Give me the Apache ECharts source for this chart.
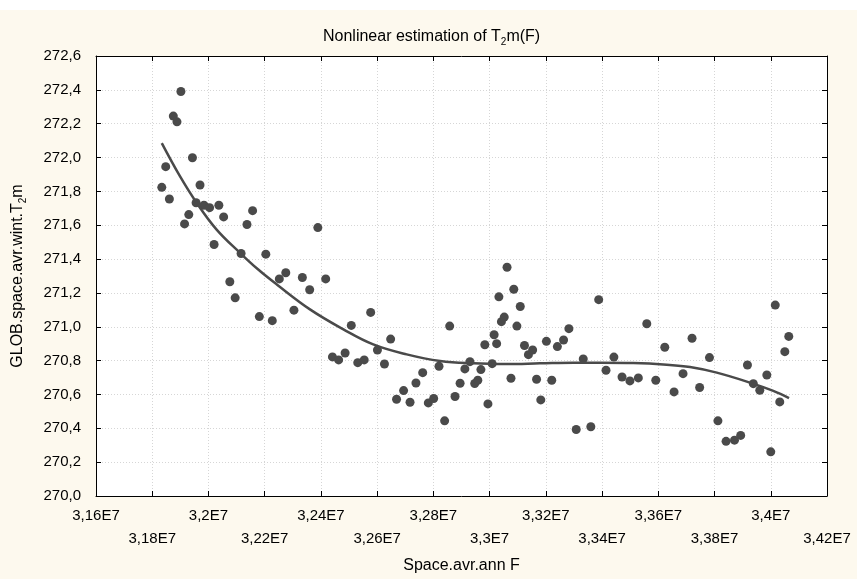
<!DOCTYPE html>
<html>
<head>
<meta charset="utf-8">
<title>Nonlinear estimation of T2m(F)</title>
<script src="https://cdn.jsdelivr.net/npm/echarts@6/dist/echarts.min.js"></script>
<style>
	html, body { margin: 0; padding: 0; background: #fff; }
	#chart { width: 857px; height: 579px; }
</style>
</head>
<body>
<div id="chart"></div>
<script>
// Space.avr.ann F, in units of 1E7
var spaceF = [
	3.1834, 3.1848, 3.1861, 3.1875, 3.1888, 3.1902, 3.1915, 3.1930, 3.1943, 3.1956,
	3.1970, 3.1984, 3.2004, 3.2020, 3.2037, 3.2054, 3.2076, 3.2095, 3.2116, 3.2137,
	3.2157, 3.2181, 3.2204, 3.2227, 3.2252, 3.2275, 3.2304, 3.2334, 3.2360, 3.2389,
	3.2417, 3.2441, 3.2463, 3.2486, 3.2508, 3.2531, 3.2554, 3.2577, 3.2601, 3.2626,
	3.2648, 3.2669, 3.2694, 3.2717, 3.2738, 3.2762, 3.2782, 3.2801, 3.2820, 3.2840,
	3.2858, 3.2877, 3.2895, 3.2912, 3.2930, 3.2947, 3.2958, 3.2969, 3.2983, 3.2994,
	3.3009, 3.3016, 3.3025, 3.3033, 3.3042, 3.3052, 3.3062, 3.3076, 3.3086, 3.3097,
	3.3109, 3.3124, 3.3138, 3.3153, 3.3167, 3.3182, 3.3202, 3.3221, 3.3241, 3.3263,
	3.3282, 3.3308, 3.3333, 3.3360, 3.3388, 3.3414, 3.3442, 3.3471, 3.3499, 3.3529,
	3.3559, 3.3591, 3.3623, 3.3656, 3.3688, 3.3720, 3.3747, 3.3782, 3.3812, 3.3841,
	3.3871, 3.3893, 3.3917, 3.3938, 3.3961, 3.3986, 3.4000, 3.4016, 3.4032, 3.4050,
	3.4064
];
// GLOB.space.avr.wint.T2m
var winterT2m = [
	271.824, 271.946, 271.755, 272.245, 272.211, 272.390, 271.608, 271.663, 271.999, 271.733,
	271.838, 271.718, 271.704, 271.486, 271.718, 271.649, 271.266, 271.171, 271.433, 271.604,
	271.686, 271.060, 271.429, 271.036, 271.283, 271.319, 271.098, 271.291, 271.219, 271.586,
	271.283, 270.822, 270.804, 270.845, 271.008, 270.788, 270.804, 271.085, 270.863, 270.780,
	270.927, 270.572, 270.623, 270.554, 270.668, 270.729, 270.550, 270.576, 270.767, 270.444,
	271.004, 270.588, 270.666, 270.751, 270.794, 270.665, 270.684, 270.747, 270.894, 270.544,
	270.782, 270.953, 270.900, 271.177, 271.030, 271.057, 271.352, 270.696, 271.222, 271.004,
	271.120, 270.889, 270.835, 270.863, 270.690, 270.568, 270.914, 270.684, 270.883, 270.922,
	270.989, 270.393, 270.810, 270.409, 271.160, 270.743, 270.821, 270.703, 270.680, 270.698,
	271.018, 270.684, 270.879, 270.615, 270.723, 270.932, 270.641, 270.818, 270.444, 270.323,
	270.330, 270.358, 270.774, 270.664, 270.625, 270.715, 270.261, 271.128, 270.556, 270.853,
	270.943
];
// fitted curve
var fitF = [
	3.1834, 3.1899, 3.1958, 3.2029, 3.2112, 3.2177, 3.2243, 3.2361, 3.2480, 3.2586,
	3.2705, 3.2824, 3.2942, 3.3061, 3.3179, 3.3298, 3.3393, 3.3511, 3.3630, 3.3713,
	3.3808, 3.3926, 3.4009, 3.4065
];
var fitT2m = [
	272.085, 271.888, 271.732, 271.574, 271.437, 271.338, 271.250, 271.103, 270.985, 270.896,
	270.837, 270.798, 270.784, 270.780, 270.784, 270.788, 270.788, 270.786, 270.776, 270.762,
	270.729, 270.670, 270.621, 270.578
];

var FONT = '"Liberation Sans", Arial, sans-serif';
var INK = '#4a4a4a';

function pairs(xs, ys) {
	var out = [];
	for (var i = 0; i < xs.length; i++) {
		out.push([xs[i] * 1e7, ys[i]]);
	}
	return out;
}

function commaNum(v) {
	return String(v).replace('.', ',');
}

var chart = echarts.init(document.getElementById('chart'), null, { renderer: 'canvas' });

var gridLine = {
	show: true,
	lineStyle: { color: '#d6d6d6', type: [1, 2], width: 1 }
};
var subStyle = { fontFamily: FONT, fontSize: 10, color: '#000', lineHeight: 8, verticalAlign: 'bottom' };

chart.setOption({
	backgroundColor: '#fdf9ee',
	animation: false,
	graphic: [{
		type: 'rect',
		shape: { x: 0, y: 0, width: 857, height: 10 },
		style: { fill: '#ffffff' },
		silent: true
	}],
	title: {
		text: 'Nonlinear estimation of T{sub|2}m(F)',
		left: 318,
		top: 22,
		textStyle: {
			fontFamily: FONT,
			fontSize: 16,
			fontWeight: 'normal',
			color: '#000',
			lineHeight: 20,
			rich: { sub: subStyle }
		}
	},
	grid: {
		left: 96,
		right: 30,
		top: 56,
		bottom: 82,
		show: true,
		backgroundColor: '#ffffff',
		borderWidth: 0
	},
	xAxis: [{
		type: 'value',
		min: 31600000,
		max: 34200000,
		interval: 200000,
		position: 'bottom',
		name: 'Space.avr.ann F',
		nameLocation: 'middle',
		nameGap: 62,
		nameTextStyle: { fontFamily: FONT, fontSize: 16, color: '#000' },
		axisLine: { show: true, onZero: false, lineStyle: { color: '#000', width: 1 } },
		axisTick: { show: true, inside: true, length: 5, lineStyle: { color: '#000' } },
		splitLine: gridLine,
		axisLabel: {
			fontFamily: FONT,
			fontSize: 15,
			color: '#000',
			margin: 8,
			lineHeight: 23,
			showMinLabel: true,
			showMaxLabel: true,
			formatter: function(v, idx) {
				var s = commaNum(parseFloat((v / 1e7).toFixed(4))) + 'E7';
				return idx % 2 === 1 ? '\n' + s : s;
			}
		}
	}, {
		type: 'value',
		min: 31600000,
		max: 34200000,
		interval: 200000,
		position: 'top',
		axisLine: { show: true, onZero: false, lineStyle: { color: '#000', width: 1 } },
		axisTick: { show: true, inside: true, length: 5, lineStyle: { color: '#000' } },
		axisLabel: { show: false },
		splitLine: { show: false }
	}],
	yAxis: [{
		type: 'value',
		min: 270,
		max: 272.6,
		interval: 0.2,
		position: 'left',
		name: 'GLOB.space.avr.wint.T{sub|2}m',
		nameLocation: 'middle',
		nameGap: 68,
		nameTextStyle: {
			fontFamily: FONT,
			fontSize: 16,
			color: '#000',
			lineHeight: 20,
			rich: { sub: subStyle }
		},
		axisLine: { show: true, onZero: false, lineStyle: { color: '#000', width: 1 } },
		axisTick: { show: true, inside: true, length: 5, lineStyle: { color: '#000' } },
		splitLine: gridLine,
		axisLabel: {
			fontFamily: FONT,
			fontSize: 15,
			color: '#000',
			margin: 15,
			formatter: function(v) {
				return commaNum(v.toFixed(1));
			}
		}
	}, {
		type: 'value',
		min: 270,
		max: 272.6,
		interval: 0.2,
		position: 'right',
		axisLine: { show: true, onZero: false, lineStyle: { color: '#000', width: 1 } },
		axisTick: { show: true, inside: true, length: 5, lineStyle: { color: '#000' } },
		axisLabel: { show: false },
		splitLine: { show: false }
	}],
	series: [{
		name: 'observed',
		type: 'scatter',
		xAxisIndex: 0,
		yAxisIndex: 0,
		symbol: 'circle',
		symbolSize: 9,
		itemStyle: { color: INK, opacity: 1 },
		data: pairs(spaceF, winterT2m),
		z: 3
	}, {
		name: 'fit',
		type: 'line',
		xAxisIndex: 0,
		yAxisIndex: 0,
		smooth: 0.4,
		showSymbol: false,
		lineStyle: { color: INK, width: 2.5 },
		data: pairs(fitF, fitT2m),
		z: 4
	}]
});
</script>
</body>
</html>
